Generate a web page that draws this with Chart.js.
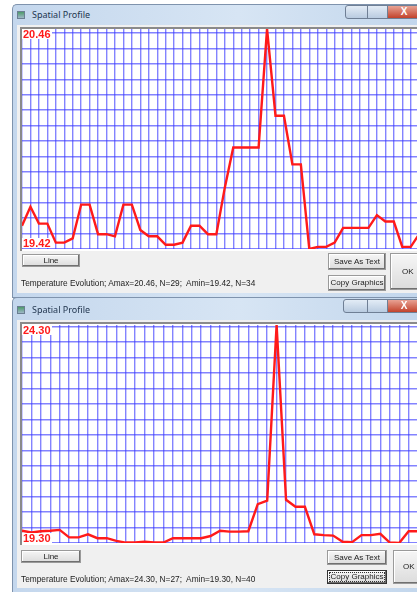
<!DOCTYPE html>
<html>
<head>
<meta charset="utf-8">
<script src="https://cdn.jsdelivr.net/npm/chart.js@4.4.0/dist/chart.umd.min.js"></script>
<style>
  html, body { margin: 0; padding: 0; }
  body { width: 417px; height: 592px; overflow: hidden; background: #fff; position: relative;
         font-family: "Liberation Sans", Arial, sans-serif; }
  .abs { position: absolute; }
  .frame { background: linear-gradient(to right, #c4d7ed, #d7e5f4 55%, #c2d6ec); border-radius: 5px 5px 0 0; border: 1px solid #7f93ad; border-right: none; }
  .title { font-family: "Noto Sans", sans-serif; font-size: 9px; color: #22364f; }
  .icon { width: 6px; height: 6px; border: 1px solid #6b7f92; background: linear-gradient(#4d9a6a, #9fb8c8); }
  .client { background: #f0f0f0; }
  .plotbox { border-top: 2px solid #8a8a8a; border-left: 2px solid #8a8a8a; background: #fff; }
  .btn { background: linear-gradient(#f6f6f6, #dcdcdc); border: 1px solid #9a9a9a;
         box-shadow: inset -1px -1px 0 #707070, inset 1px 1px 0 #fff;
         font-size: 8px; color: #222; text-align: center; box-sizing: border-box; }
  .status { font-size: 8.3px; color: #222; white-space: nowrap; }
  .vlabel { font-size: 11px; font-weight: bold; color: #ff1a1a; background: #fff; line-height: 10px; padding: 0 1px; }
  .wbtn { height: 14px; box-sizing: border-box; border: 1px solid #6f7f95; }
  .close { background: linear-gradient(#e8a293, #c2432c); color: #fff; font-size: 10px; font-weight: bold; text-align: center; line-height: 12px; }
</style>
</head>
<body>

<!-- top window -->
<div class="abs frame" style="left:12px; top:4px; width:410px; height:292px;"></div>
<div class="abs icon" style="left:17px; top:11px;"></div>
<div class="abs title" style="left:32px; top:8px;">Spatial Profile</div>
<div class="abs wbtn" style="left:345px; top:5px; width:23px; background:linear-gradient(#e3ecf6,#b9cbe0); border-radius:3px 0 0 3px;"></div>
<div class="abs wbtn" style="left:367px; top:5px; width:21px; background:linear-gradient(#e3ecf6,#b9cbe0);"></div>
<div class="abs wbtn close" style="left:387px; top:5px; width:34px;">X</div>
<div class="abs client" style="left:17px; top:25px; width:400px; height:268px;"></div>
<div class="abs plotbox" style="left:20px; top:27px; width:400px; height:222px;"></div>
<canvas id="topChart" class="abs" width="395" height="220" style="left:22px; top:29px;"></canvas>
<div class="abs vlabel" style="left:22px; top:29px;">20.46</div>
<div class="abs vlabel" style="left:22px; top:238px;">19.42</div>
<div class="abs btn" style="left:22px; top:254px; width:58px; height:13px; line-height:11px;">Line</div>
<div class="abs btn" style="left:328px; top:253px; width:58px; height:17px; line-height:15px;">Save As Text</div>
<div class="abs btn" style="left:328px; top:275px; width:58px; height:16px; line-height:14px;">Copy Graphics</div>
<div class="abs btn" style="left:390px; top:253px; width:32px; height:37px; line-height:35px; text-align:left; padding-left:11px;">OK</div>
<div class="abs status" style="left:21px; top:278px;">Temperature Evolution; Amax=20.46, N=29;&nbsp; Amin=19.42, N=34</div>

<!-- bottom window -->
<div class="abs frame" style="left:12px; top:297px; width:410px; height:300px;"></div>
<div class="abs icon" style="left:17px; top:306px;"></div>
<div class="abs title" style="left:32px; top:303px;">Spatial Profile</div>
<div class="abs wbtn" style="left:343px; top:299px; width:25px; background:linear-gradient(#e3ecf6,#b9cbe0); border-radius:3px 0 0 3px;"></div>
<div class="abs wbtn" style="left:367px; top:299px; width:21px; background:linear-gradient(#e3ecf6,#b9cbe0);"></div>
<div class="abs wbtn close" style="left:387px; top:299px; width:34px;">X</div>
<div class="abs client" style="left:17px; top:320px; width:400px; height:268px;"></div>
<div class="abs plotbox" style="left:20px; top:322px; width:400px; height:221px;"></div>
<canvas id="bottomChart" class="abs" width="395" height="218" style="left:22px; top:325px;"></canvas>
<div class="abs vlabel" style="left:22px; top:325px;">24.30</div>
<div class="abs vlabel" style="left:22px; top:533px;">19.30</div>
<div class="abs btn" style="left:21px; top:550px; width:60px; height:13px; line-height:11px;">Line</div>
<div class="abs btn" style="left:327px; top:550px; width:60px; height:15px; line-height:13px;">Save As Text</div>
<div class="abs btn" style="left:327px; top:570px; width:60px; height:14px; line-height:12px; border-color:#333; outline:1px dotted #333; outline-offset:-3px;">Copy Graphics</div>
<div class="abs btn" style="left:393px; top:550px; width:30px; height:34px; line-height:32px; text-align:left; padding-left:9px;">OK</div>
<div class="abs status" style="left:21px; top:574px;">Temperature Evolution; Amax=24.30, N=27;&nbsp; Amin=19.30, N=40</div>

<script>
// spatial profile values, one per position index (only the visible part)
const topValues = [
  19.53, 19.62, 19.54, 19.54, 19.45, 19.45, 19.47, 19.63, 19.63, 19.49,
  19.49, 19.48, 19.63, 19.63, 19.51, 19.48, 19.48, 19.44, 19.44, 19.45,
  19.53, 19.53, 19.49, 19.49, 19.71, 19.90, 19.90, 19.90, 19.90, 20.46,
  20.05, 20.05, 19.82, 19.82, 19.42, 19.43, 19.43, 19.45, 19.52, 19.52,
  19.52, 19.52, 19.58, 19.55, 19.55, 19.43, 19.43, 19.49
];
const bottomValues = [
  19.58, 19.54, 19.57, 19.58, 19.60, 19.43, 19.43, 19.50, 19.41, 19.41,
  19.35, 19.31, 19.31, 19.33, 19.31, 19.31, 19.41, 19.41, 19.41, 19.41,
  19.46, 19.58, 19.56, 19.56, 19.57, 20.19, 20.27, 24.30, 20.29, 20.13,
  20.13, 19.50, 19.48, 19.47, 19.33, 19.32, 19.48, 19.48, 19.51, 19.31,
  19.30, 19.57, 19.57
];
const topRange = [19.42, 20.46];
const bottomRange = [19.30, 24.30];

const gridColor = 'rgba(55,55,255,0.62)';
const lineColor = '#ff1a1a';

function makeChart(id, values, range, pxPerPoint, rows) {
  const canvas = document.getElementById(id);
  const xMax = canvas.width / pxPerPoint;
  return new Chart(canvas.getContext('2d'), {
    type: 'line',
    data: {
      datasets: [{
        data: values.map((v, i) => ({ x: i, y: v })),
        borderColor: lineColor,
        borderWidth: 2.4,
        pointRadius: 0,
        tension: 0,
        clip: 0
      }]
    },
    options: {
      responsive: false,
      animation: false,
      layout: { padding: 0 },
      plugins: { legend: { display: false }, tooltip: { enabled: false } },
      scales: {
        x: {
          type: 'linear', min: 0, max: xMax,
          border: { display: false },
          ticks: { display: false },
          grid: { color: gridColor, lineWidth: 1.4, drawTicks: false },
          afterBuildTicks: s => {
            const t = [];
            for (let i = 0; i <= Math.floor(xMax); i++) t.push({ value: i });
            s.ticks = t;
          }
        },
        y: {
          min: range[0], max: range[1],
          border: { display: false },
          ticks: { display: false },
          grid: { color: gridColor, lineWidth: 1.4, drawTicks: false },
          afterBuildTicks: s => {
            const step = (range[1] - range[0]) / rows;
            const t = [];
            for (let k = 0; k <= Math.floor(rows); k++) t.push({ value: range[0] + k * step });
            s.ticks = t;
          }
        }
      }
    }
  });
}

makeChart('topChart', topValues, topRange, 8.45, 14.26);
makeChart('bottomChart', bottomValues, bottomRange, 9.43, 14.11);
</script>
</body>
</html>
